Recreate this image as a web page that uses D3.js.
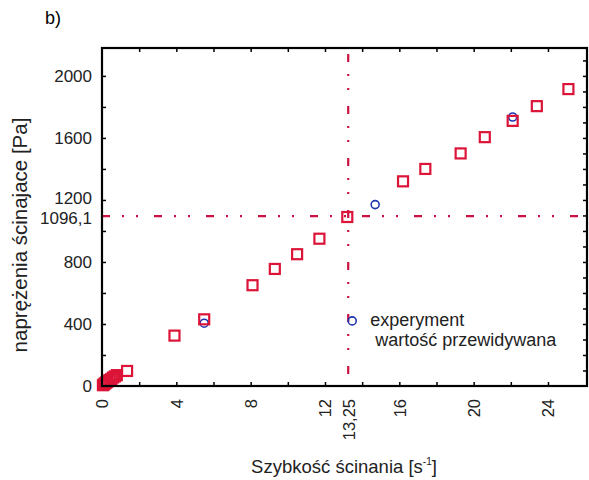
<!DOCTYPE html>
<html>
<head>
<meta charset="utf-8">
<script src="https://cdn.jsdelivr.net/npm/d3@7"></script>
<style>
  body { margin: 0; background: #fff; }
  svg { display: block; font-family: "Liberation Sans", Arial, sans-serif; }
</style>
</head>
<body>
<div id="chart"></div>
<script>
// Predicted values (red squares)
const predX = [0.05, 0.1, 0.15, 0.2, 0.25, 0.3, 0.4, 0.5, 0.6, 0.7, 0.8, 1.35, 3.9, 5.5, 8.1, 9.3, 10.5, 11.7, 13.2, 16.2, 17.4, 19.3, 20.6, 22.1, 23.4, 25.1];
const predY = [5, 10, 15, 20, 25, 30, 38, 46, 55, 62, 70, 97, 325, 430, 650, 755, 850, 950, 1090, 1320, 1400, 1500, 1605, 1710, 1805, 1915];

// Experiment values (blue circles, mostly hidden)
const expX = [5.5, 14.7, 22.1];
const expY = [405, 1170, 1735];

// Tick labels
const xLabelTicks = [0, 4, 8, 12, 13.25, 16, 20, 24];
const yLabelTicks = [0, 400, 800, 1096.1, 1200, 1600, 2000];

// Reference point
const refX = 13.25;
const refY = 1096.1;

const W = 589, H = 480;
const margin = { top: 48, right: 2, bottom: 94, left: 102 };
const width = W - margin.left - margin.right;
const height = H - margin.top - margin.bottom;
const red = "#dc1438";
const lineRed = "#cc1040";
const blue = "#2035b0";
const fmt = (d) => String(d).replace(".", ",");

const svg = d3.select("#chart").append("svg").attr("width", W).attr("height", H);
const g = svg.append("g").attr("transform", `translate(${margin.left},${margin.top})`);

const x = d3.scaleLinear().domain([0, 26.1]).range([0, width]);
const y = d3.scaleLinear().domain([0, 2180]).range([height, 0]);

// Panel label
svg.append("text").attr("x", 45).attr("y", 24).style("font-size", "18px").text("b)");

// Reference dash-dot lines
const dash = "8,12,2,12,2,16";
g.append("line")
  .attr("x1", 0).attr("x2", width)
  .attr("y1", y(refY)).attr("y2", y(refY))
  .attr("stroke", lineRed).attr("stroke-width", 2.2)
  .attr("stroke-dasharray", dash);
g.append("line")
  .attr("x1", x(refX)).attr("x2", x(refX))
  .attr("y1", 6).attr("y2", height)
  .attr("stroke", lineRed).attr("stroke-width", 2.2)
  .attr("stroke-dasharray", dash);

// Experiment markers
const expData = expX.map((v, i) => ({ x: v, y: expY[i] }));
g.selectAll(".exp")
  .data(expData)
  .enter()
  .append("circle")
  .attr("class", "exp")
  .attr("cx", (d) => x(d.x))
  .attr("cy", (d) => y(d.y))
  .attr("r", 4)
  .attr("fill", "none")
  .attr("stroke", blue)
  .attr("stroke-width", 1.6);

// Predicted markers
const predData = predX.map((v, i) => ({ x: v, y: predY[i] }));
const sq = 10;
g.selectAll(".pred")
  .data(predData)
  .enter()
  .append("rect")
  .attr("class", "pred")
  .attr("x", (d) => x(d.x) - sq / 2)
  .attr("y", (d) => y(d.y) - sq / 2)
  .attr("width", sq)
  .attr("height", sq)
  .attr("fill", "none")
  .attr("stroke", red)
  .attr("stroke-width", 2.2);

// Frame
g.append("rect")
  .attr("width", width).attr("height", height)
  .attr("fill", "none").attr("stroke", "#000").attr("stroke-width", 2.2);

// Minor tick marks (inward)
const xMinor = d3.range(2, 26, 2);
const yMinorL = d3.range(200, 2180, 200);
const yMinorR = d3.range(100, 2180, 100);
const tickStyle = (sel) => {
  sel.select(".domain").remove();
  sel.selectAll("line").attr("stroke", "#000").attr("stroke-width", 1.5);
  sel.selectAll("text").remove();
};
g.append("g").attr("transform", `translate(0,${height})`)
  .call(d3.axisBottom(x).tickValues(xMinor).tickSizeInner(-4).tickSizeOuter(0)).call(tickStyle);
g.append("g")
  .call(d3.axisTop(x).tickValues(xMinor).tickSizeInner(-4).tickSizeOuter(0)).call(tickStyle);
g.append("g")
  .call(d3.axisLeft(y).tickValues(yMinorL).tickSizeInner(-4).tickSizeOuter(0)).call(tickStyle);
g.append("g").attr("transform", `translate(${width},0)`)
  .call(d3.axisRight(y).tickValues(yMinorR).tickSizeInner(-4).tickSizeOuter(0)).call(tickStyle);

// Labeled axes
const xAxis = g.append("g").attr("transform", `translate(0,${height})`)
  .call(d3.axisBottom(x).tickValues(xLabelTicks).tickFormat(fmt).tickSize(0));
xAxis.select(".domain").remove();
xAxis.selectAll("text")
  .attr("transform", "rotate(-90)")
  .attr("text-anchor", "end")
  .attr("x", -13).attr("y", 0).attr("dy", "0.36em")
  .style("font-size", "16.5px").attr("fill", "#222");

const yAxis = g.append("g")
  .call(d3.axisLeft(y).tickValues(yLabelTicks).tickFormat(fmt).tickSize(0));
yAxis.select(".domain").remove();
yAxis.selectAll("text")
  .attr("x", -10)
  .attr("dy", (d) => (d === 1200 ? "0.2em" : d === refY ? "0.45em" : "0.32em"))
  .style("font-size", "17px").attr("fill", "#222");

// Axis titles
svg.append("text")
  .attr("x", 344).attr("y", 473)
  .attr("text-anchor", "middle")
  .style("font-size", "18.5px").attr("fill", "#222")
  .html('Szybkość ścinania [s<tspan dy="-8" font-size="10px">-1</tspan><tspan dy="8">]</tspan>');

svg.append("text")
  .attr("transform", "rotate(-90)")
  .attr("x", -235).attr("y", 27)
  .attr("text-anchor", "middle")
  .style("font-size", "20.5px").attr("fill", "#222")
  .text("naprężenia ścinajace [Pa]");

// Legend
const lg = g.append("g").attr("transform", `translate(${x(13.25) + 4},${y(420)})`);
lg.append("circle").attr("cx", 0).attr("cy", 0).attr("r", 4)
  .attr("fill", "none").attr("stroke", blue).attr("stroke-width", 1.6);
lg.append("text").attr("x", 18).attr("y", 5).style("font-size", "18px").attr("fill", "#222").text("experyment");
lg.append("text").attr("x", 23).attr("y", 25).style("font-size", "18px").attr("fill", "#222").text("wartość przewidywana");
</script>
</body>
</html>
